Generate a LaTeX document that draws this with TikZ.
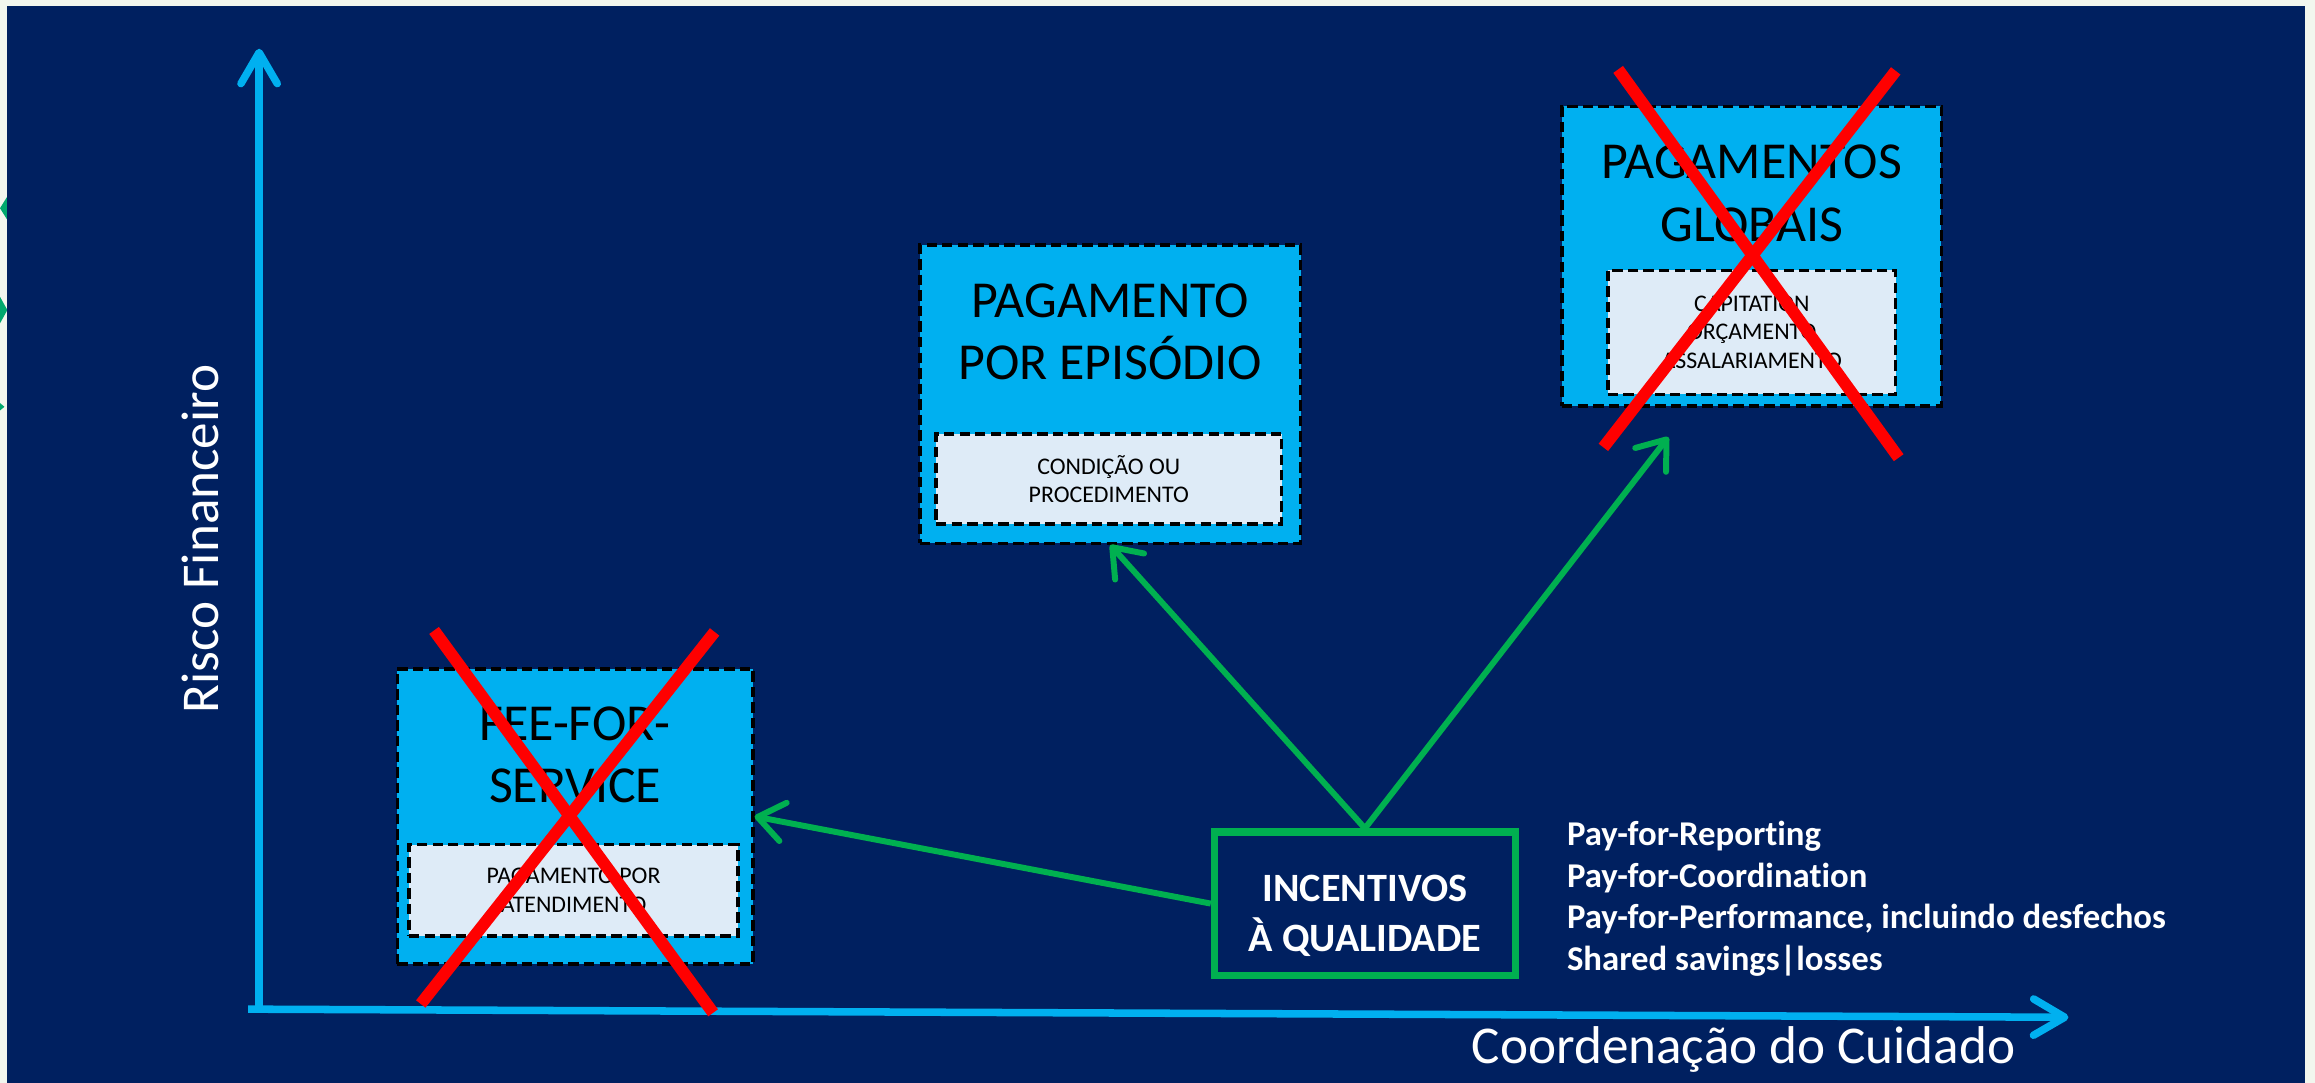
\documentclass[tikz,border=0pt]{standalone}
\usepackage{fontspec}
\setmainfont{Carlito}[Ligatures=NoCommon]
\usetikzlibrary{arrows.meta}
\definecolor{navy}{RGB}{0,32,96}
\definecolor{skyblue}{RGB}{0,176,240}
\definecolor{paleblue}{RGB}{222,235,247}
\definecolor{okgreen}{RGB}{0,176,80}
\definecolor{edgegreen}{RGB}{0,168,110}
\definecolor{pagebg}{RGB}{242,246,238}

\begin{document}
\begin{tikzpicture}[x=0.02cm, y=-0.02cm,
  axisline/.style={skyblue, line width=2.9pt, -{Straight Barb[round, length=12pt, width=14pt]}},
  modelbox/.style={draw=black, fill=skyblue, dash pattern=on 4pt off 2pt, line width=1.3pt, inner sep=0pt},
  detailbox/.style={draw=black, fill=paleblue, dash pattern=on 4pt off 2pt, line width=1.3pt, inner sep=0pt, align=center, font=\fontsize{9.2}{11}\selectfont},
  heading/.style={inner sep=0pt, align=center, font=\fontsize{20}{24}\selectfont},
  redcross/.style={red, line width=4.6pt},
  greenarrow/.style={okgreen, line width=2.3pt, -{Straight Barb[round, length=10pt, width=15pt]}}]
    \fill[pagebg] (0,0) rectangle (1568,733.5);
    \useasboundingbox (0,0) rectangle (1568,733.5);
    \fill[edgegreen] (0,141) -- (5,133) -- (5,149) -- cycle;
    \fill[edgegreen] (0,201) -- (5,210) -- (0,219) -- cycle;
    \fill[edgegreen] (0,273) -- (3,275.5) -- (0,278) -- cycle;
    \fill[navy] (5,4) rectangle (1561,733.5);
    \coordinate (yfoot) at (175.5,685);
    \coordinate (ytop) at (175.5,33);
    \coordinate (xfoot) at (168,683.5);
    \coordinate (xtip) at (1401,689);
    \draw[axisline] (yfoot) -- (ytop);
    \draw[axisline] (xfoot) -- (xtip);
    \node[rotate=90, text=white, font=\fontsize{20.5}{24}\selectfont] (risco) at (136,365) {Risco Financeiro};
    \node[text=white, font=\fontsize{20.5}{24}\selectfont] (cuidado) at (1181,711) {Coordenação do Cuidado};
    \node[modelbox, minimum width=4.82cm, minimum height=4cm] (fee) at (389.5,553) {};
    \node[heading] (feetitle) at (389.5,511.5) {FEE-FOR-\\SERVICE};
    \node[detailbox, minimum width=4.46cm, minimum height=1.24cm] (feesub) at (388.5,603) {PAGAMENTO POR\\ATENDIMENTO};
    \node[modelbox, minimum width=5.16cm, minimum height=4.04cm] (episodio) at (752,267) {};
    \node[heading] (episodiotitle) at (752,225) {PAGAMENTO\\POR EPISÓDIO};
    \node[detailbox, minimum width=4.68cm, minimum height=1.22cm] (episodiosub) at (751,324.5) {CONDIÇÃO OU\\PROCEDIMENTO};
    \node[modelbox, minimum width=5.14cm, minimum height=4.06cm] (globais) at (1186.5,173.5) {};
    \node[heading] (globaistitle) at (1186.5,131) {PAGAMENTOS\\GLOBAIS};
    \node[detailbox, minimum width=3.9cm, minimum height=1.68cm] (globaissub) at (1186.5,225) {CAPITATION\\ORÇAMENTO\\ASSALARIAMENTO};
    \node[draw=okgreen, line width=2.8pt, minimum width=4.08cm, minimum height=1.94cm, align=center, text=white, text height=39pt, font=\bfseries\fontsize{15.5}{19.5}\selectfont] (incentivos) at (924.5,612) {INCENTIVOS\\À QUALIDADE};
    \node[anchor=north west, inner sep=0pt, align=left, text=white, font=\bfseries\fontsize{13.4}{16}\selectfont] (formas) at (1061,556) {Pay-for-Reporting\\Pay-for-Coordination\\Pay-for-Performance, incluindo desfechos\\Shared savings|losses};
    \coordinate (globaistip) at (1130,296);
    \draw[greenarrow] (incentivos.west) -- (fee.east);
    \draw[greenarrow] (incentivos.north) -- (episodio.south);
    \draw[greenarrow] (incentivos.north) -- (globaistip);
    \draw[redcross] (294,427) -- (483,686);
    \draw[redcross] (484,428) -- (285,680);
    \draw[redcross] (1096,47) -- (1286,310);
    \draw[redcross] (1284,48) -- (1086,303);
\end{tikzpicture}
\end{document}
